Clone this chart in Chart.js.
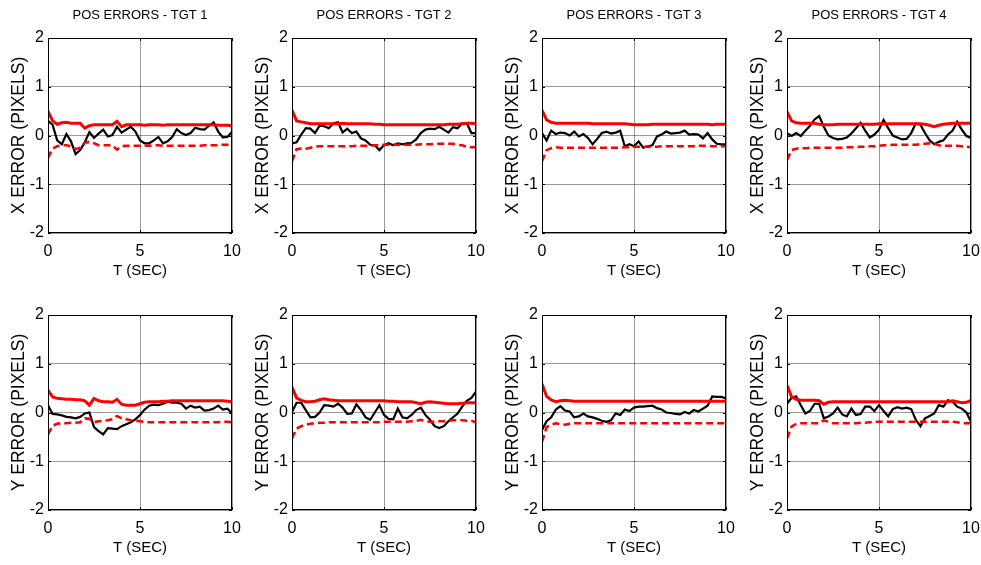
<!DOCTYPE html>
<html>
<head>
<meta charset="utf-8">
<script src="https://cdn.jsdelivr.net/npm/chart.js@4/dist/chart.umd.min.js"></script>
<style>
  body { margin: 0; background: #fff; width: 981px; height: 565px; position: relative; overflow: hidden; }
  .panel { position: absolute; }
</style>
</head>
<body>
<div class="panel" style="left:0px;top:0px"><canvas id="c0" width="242" height="278"></canvas></div>
<div class="panel" style="left:244px;top:0px"><canvas id="c1" width="242" height="278"></canvas></div>
<div class="panel" style="left:494px;top:0px"><canvas id="c2" width="242" height="278"></canvas></div>
<div class="panel" style="left:739px;top:0px"><canvas id="c3" width="242" height="278"></canvas></div>
<div class="panel" style="left:0px;top:277px"><canvas id="c4" width="242" height="278"></canvas></div>
<div class="panel" style="left:244px;top:277px"><canvas id="c5" width="242" height="278"></canvas></div>
<div class="panel" style="left:494px;top:277px"><canvas id="c6" width="242" height="278"></canvas></div>
<div class="panel" style="left:739px;top:277px"><canvas id="c7" width="242" height="278"></canvas></div>
<script>
// time axis (sec)
const time = [0, 0.25, 0.5, 0.75, 1, 1.25, 1.5, 1.75, 2, 2.25, 2.5, 2.75, 3, 3.25, 3.5, 3.75, 4, 4.25, 4.5, 4.75,
  5, 5.25, 5.5, 5.75, 6, 6.25, 6.5, 6.75, 7, 7.25, 7.5, 7.75, 8, 8.25, 8.5, 8.75, 9, 9.25, 9.5, 9.75, 10];

const titles = ['POS ERRORS - TGT 1', 'POS ERRORS - TGT 2', 'POS ERRORS - TGT 3', 'POS ERRORS - TGT 4'];
const yTicks = [-2, -1, 0, 1, 2];
const xTicks = [0, 5, 10];

// TGT 1
const tgt1X = [0.3, 0.22, -0.1, -0.18, 0.03, -0.12, -0.38, -0.3, -0.14, 0.07,
  -0.05, 0.04, 0.12, -0.02, 0.01, 0.18, 0.06, 0.12, 0.18, 0.08,
  -0.1, -0.16, -0.16, -0.1, -0.03, -0.16, -0.12, -0.03, 0.13, 0.05,
  0.01, 0.05, 0.16, 0.13, 0.12, 0.2, 0.27, 0.08, -0.04, -0.03, 0.08];
const tgt1XHi = [0.5, 0.3, 0.23, 0.26, 0.27, 0.25, 0.25, 0.25, 0.15, 0.2,
  0.22, 0.22, 0.22, 0.22, 0.22, 0.29, 0.18, 0.22, 0.22, 0.22,
  0.22, 0.21, 0.22, 0.22, 0.22, 0.21, 0.22, 0.22, 0.22, 0.22,
  0.22, 0.22, 0.22, 0.22, 0.22, 0.22, 0.22, 0.21, 0.21, 0.21, 0.2];
const tgt1XLo = [-0.46, -0.27, -0.22, -0.2, -0.2, -0.22, -0.28, -0.25, -0.15, -0.13,
  -0.16, -0.2, -0.2, -0.2, -0.2, -0.29, -0.22, -0.21, -0.21, -0.21,
  -0.21, -0.21, -0.21, -0.2, -0.2, -0.21, -0.21, -0.21, -0.21, -0.21,
  -0.21, -0.21, -0.21, -0.21, -0.2, -0.2, -0.2, -0.2, -0.19, -0.19, -0.19];
const tgt1Y = [0.15, -0.03, -0.04, -0.06, -0.09, -0.1, -0.12, -0.09, -0.02, 0.0,
  -0.3, -0.38, -0.45, -0.32, -0.33, -0.34, -0.28, -0.24, -0.2, -0.14,
  -0.05, 0.06, 0.14, 0.16, 0.15, 0.18, 0.22, 0.2, 0.2, 0.18,
  0.08, 0.14, 0.1, 0.12, 0.04, 0.05, 0.08, 0.14, 0.06, 0.08, -0.02];
const tgt1YHi = [0.46, 0.32, 0.29, 0.28, 0.27, 0.27, 0.26, 0.26, 0.24, 0.15,
  0.29, 0.24, 0.22, 0.22, 0.21, 0.27, 0.17, 0.15, 0.15, 0.15,
  0.18, 0.21, 0.22, 0.22, 0.22, 0.23, 0.23, 0.24, 0.24, 0.24,
  0.24, 0.24, 0.24, 0.24, 0.24, 0.24, 0.24, 0.24, 0.24, 0.23, 0.22];
const tgt1YLo = [-0.45, -0.27, -0.23, -0.22, -0.22, -0.21, -0.21, -0.2, -0.12, -0.13,
  -0.2, -0.18, -0.17, -0.16, -0.14, -0.07, -0.12, -0.14, -0.16, -0.17,
  -0.18, -0.19, -0.2, -0.2, -0.2, -0.2, -0.2, -0.2, -0.2, -0.2,
  -0.2, -0.2, -0.2, -0.2, -0.2, -0.2, -0.2, -0.2, -0.19, -0.19, -0.2];

// TGT 2
const tgt2X = [-0.16, -0.14, 0.02, 0.15, 0.14, 0.05, 0.2, 0.19, 0.15, 0.25,
  0.27, 0.06, 0.14, 0.05, 0.08, -0.06, -0.1, -0.19, -0.2, -0.3,
  -0.2, -0.16, -0.2, -0.16, -0.18, -0.16, -0.15, -0.08, 0.05, 0.12,
  0.14, 0.13, 0.18, 0.12, 0.06, 0.17, 0.15, 0.25, 0.25, 0.05, 0.05];
const tgt2XHi = [0.52, 0.3, 0.28, 0.26, 0.24, 0.24, 0.24, 0.24, 0.24, 0.24,
  0.24, 0.25, 0.24, 0.24, 0.24, 0.24, 0.24, 0.24, 0.23, 0.23,
  0.22, 0.22, 0.22, 0.22, 0.22, 0.22, 0.22, 0.22, 0.22, 0.22,
  0.22, 0.22, 0.22, 0.22, 0.23, 0.23, 0.23, 0.24, 0.25, 0.25, 0.24];
const tgt2XLo = [-0.53, -0.28, -0.27, -0.27, -0.25, -0.23, -0.22, -0.22, -0.22, -0.22,
  -0.22, -0.22, -0.22, -0.22, -0.21, -0.21, -0.21, -0.21, -0.2, -0.2,
  -0.19, -0.19, -0.19, -0.19, -0.19, -0.19, -0.19, -0.19, -0.18, -0.18,
  -0.18, -0.17, -0.17, -0.17, -0.17, -0.17, -0.19, -0.2, -0.23, -0.24, -0.24];
const tgt2Y = [0.01, 0.2, 0.2, 0.05, -0.1, -0.09, 0.0, 0.15, 0.14, 0.12,
  0.18, 0.1, -0.03, -0.02, 0.17, 0.05, -0.1, -0.15, 0.0, 0.15,
  -0.05, -0.13, -0.14, 0.08, -0.1, -0.12, -0.05, 0.05, 0.1, -0.05,
  -0.15, -0.28, -0.32, -0.28, -0.18, -0.1, -0.02, 0.12, 0.24, 0.3, 0.43];
const tgt2YHi = [0.52, 0.3, 0.25, 0.22, 0.22, 0.23, 0.26, 0.28, 0.26, 0.25,
  0.24, 0.24, 0.24, 0.24, 0.24, 0.24, 0.24, 0.24, 0.24, 0.24,
  0.24, 0.23, 0.23, 0.22, 0.22, 0.22, 0.22, 0.2, 0.18, 0.21,
  0.22, 0.21, 0.2, 0.19, 0.18, 0.18, 0.18, 0.19, 0.2, 0.2, 0.2];
const tgt2YLo = [-0.53, -0.33, -0.28, -0.25, -0.23, -0.22, -0.21, -0.21, -0.2, -0.2,
  -0.2, -0.2, -0.2, -0.2, -0.2, -0.2, -0.2, -0.2, -0.2, -0.2,
  -0.19, -0.19, -0.19, -0.19, -0.19, -0.19, -0.18, -0.17, -0.15, -0.18,
  -0.19, -0.19, -0.18, -0.18, -0.17, -0.16, -0.16, -0.16, -0.17, -0.17, -0.2];

// TGT 3
const tgt3X = [0.05, -0.1, 0.1, 0.03, 0.06, 0.05, 0.0, 0.08, -0.02, 0.03,
  -0.05, -0.18, -0.07, 0.05, 0.08, 0.04, 0.06, 0.1, -0.22, -0.18,
  -0.22, -0.12, -0.25, -0.22, -0.2, -0.02, 0.02, 0.08, 0.04, 0.05,
  0.06, 0.1, 0.02, 0.03, 0.02, -0.06, 0.05, -0.08, -0.17, -0.18, -0.18];
const tgt3XHi = [0.52, 0.32, 0.27, 0.25, 0.25, 0.25, 0.25, 0.25, 0.25, 0.25,
  0.25, 0.24, 0.24, 0.24, 0.24, 0.24, 0.24, 0.24, 0.24, 0.23,
  0.22, 0.22, 0.22, 0.22, 0.23, 0.23, 0.23, 0.23, 0.23, 0.23,
  0.23, 0.23, 0.23, 0.23, 0.23, 0.23, 0.23, 0.22, 0.23, 0.23, 0.23];
const tgt3XLo = [-0.53, -0.3, -0.26, -0.24, -0.25, -0.25, -0.25, -0.25, -0.25, -0.25,
  -0.25, -0.25, -0.25, -0.25, -0.25, -0.25, -0.25, -0.25, -0.24, -0.24,
  -0.23, -0.23, -0.23, -0.23, -0.23, -0.23, -0.22, -0.22, -0.22, -0.22,
  -0.22, -0.22, -0.22, -0.22, -0.21, -0.21, -0.21, -0.22, -0.22, -0.22, -0.22];
const tgt3Y = [-0.36, -0.18, -0.1, 0.06, 0.13, 0.04, 0.02, -0.1, -0.08, -0.02,
  -0.08, -0.1, -0.13, -0.17, -0.19, -0.16, -0.02, -0.05, 0.06, 0.03,
  0.1, 0.12, 0.12, 0.13, 0.14, 0.09, 0.06, 0.0, -0.01, -0.03,
  -0.04, 0.01, -0.02, 0.05, 0.02, 0.08, 0.14, 0.33, 0.32, 0.32, 0.29];
const tgt3YHi = [0.59, 0.33, 0.26, 0.22, 0.24, 0.25, 0.24, 0.23, 0.23, 0.23,
  0.23, 0.23, 0.23, 0.23, 0.23, 0.23, 0.23, 0.23, 0.23, 0.23,
  0.23, 0.23, 0.23, 0.23, 0.23, 0.23, 0.23, 0.23, 0.23, 0.23,
  0.23, 0.23, 0.23, 0.23, 0.23, 0.23, 0.23, 0.23, 0.23, 0.23, 0.23];
const tgt3YLo = [-0.6, -0.3, -0.25, -0.22, -0.24, -0.25, -0.23, -0.22, -0.22, -0.22,
  -0.22, -0.22, -0.22, -0.22, -0.22, -0.22, -0.22, -0.22, -0.22, -0.22,
  -0.22, -0.22, -0.22, -0.22, -0.22, -0.22, -0.22, -0.22, -0.22, -0.22,
  -0.22, -0.22, -0.22, -0.22, -0.22, -0.22, -0.22, -0.22, -0.22, -0.22, -0.22];

// TGT 4
const tgt4X = [0.05, -0.01, 0.05, -0.01, 0.1, 0.2, 0.33, 0.4, 0.18, 0.0,
  -0.05, -0.08, -0.07, -0.04, 0.04, 0.15, 0.26, 0.1, -0.04, 0.02,
  0.12, 0.32, 0.15, 0.0, -0.04, -0.08, -0.07, 0.05, 0.25, 0.22,
  0.05, -0.1, -0.18, -0.13, -0.1, 0.02, 0.1, 0.28, 0.12, -0.01, -0.05];
const tgt4XHi = [0.49, 0.3, 0.26, 0.25, 0.25, 0.25, 0.25, 0.23, 0.22, 0.22,
  0.22, 0.23, 0.23, 0.23, 0.23, 0.23, 0.23, 0.23, 0.23, 0.23,
  0.24, 0.24, 0.24, 0.24, 0.24, 0.24, 0.24, 0.24, 0.24, 0.24,
  0.23, 0.21, 0.18, 0.21, 0.23, 0.24, 0.25, 0.25, 0.25, 0.25, 0.25];
const tgt4XLo = [-0.5, -0.3, -0.27, -0.26, -0.26, -0.25, -0.25, -0.25, -0.25, -0.25,
  -0.25, -0.25, -0.25, -0.24, -0.24, -0.24, -0.23, -0.23, -0.22, -0.22,
  -0.21, -0.2, -0.2, -0.19, -0.19, -0.19, -0.19, -0.19, -0.19, -0.18,
  -0.17, -0.16, -0.17, -0.2, -0.21, -0.21, -0.21, -0.21, -0.22, -0.23, -0.24];
const tgt4Y = [0.18, 0.3, 0.33, 0.15, -0.02, 0.03, 0.18, 0.18, -0.12, -0.08,
  -0.02, 0.1, -0.04, -0.08, 0.08, -0.05, -0.03, 0.12, 0.12, 0.03,
  0.15, 0.03, -0.08, 0.07, 0.11, 0.08, 0.1, 0.07, -0.15, -0.28,
  -0.12, -0.07, -0.02, 0.15, 0.12, 0.25, 0.22, 0.12, 0.08, 0.0, -0.19];
const tgt4YHi = [0.56, 0.32, 0.27, 0.25, 0.25, 0.25, 0.25, 0.24, 0.17, 0.21,
  0.22, 0.22, 0.22, 0.22, 0.22, 0.22, 0.22, 0.22, 0.22, 0.22,
  0.22, 0.22, 0.22, 0.22, 0.22, 0.22, 0.22, 0.22, 0.22, 0.22,
  0.22, 0.22, 0.22, 0.22, 0.22, 0.22, 0.24, 0.22, 0.2, 0.21, 0.25];
const tgt4YLo = [-0.53, -0.29, -0.23, -0.22, -0.22, -0.22, -0.22, -0.22, -0.16, -0.19,
  -0.22, -0.22, -0.22, -0.22, -0.22, -0.22, -0.21, -0.21, -0.2, -0.19,
  -0.19, -0.19, -0.19, -0.19, -0.19, -0.19, -0.19, -0.19, -0.19, -0.19,
  -0.19, -0.19, -0.19, -0.19, -0.19, -0.19, -0.19, -0.2, -0.22, -0.22, -0.22];

const SANS = "'Liberation Sans', Arial, sans-serif";

// matlab style box with inward tick marks
const boxPlugin = {
  id: 'box',
  afterDraw(chart) {
    const { ctx, chartArea: a, scales } = chart;
    ctx.save();
    ctx.strokeStyle = '#000';
    ctx.lineWidth = 1;
    ctx.strokeRect(a.left + 0.5, a.top + 0.5, a.right - a.left - 1, a.bottom - a.top - 1);
    ctx.beginPath();
    scales.x.ticks.forEach(t => {
      const px = Math.round(scales.x.getPixelForValue(t.value)) + 0.5;
      ctx.moveTo(px, a.bottom); ctx.lineTo(px, a.bottom - 3);
      ctx.moveTo(px, a.top); ctx.lineTo(px, a.top + 3);
    });
    scales.y.ticks.forEach(t => {
      const py = Math.round(scales.y.getPixelForValue(t.value)) + 0.5;
      ctx.moveTo(a.left, py); ctx.lineTo(a.left + 3, py);
      ctx.moveTo(a.right, py); ctx.lineTo(a.right - 3, py);
    });
    ctx.stroke();
    ctx.restore();
  }
};

const pts = vals => vals.map((v, i) => ({ x: time[i], y: v }));

// fixed box sizes so every panel lines up like the matlab subplots
const fixX = h => s => { s.height = h; s.paddingLeft = 0; s.paddingRight = 0; };
const fixY = s => { s.width = 48; s.paddingTop = 0; s.paddingBottom = 0; };

function makePanel(id, title, yLabel, err, hi, lo) {
  new Chart(document.getElementById(id).getContext('2d'), {
    type: 'line',
    data: {
      datasets: [
        { data: pts(hi), borderColor: '#ff0000', borderWidth: 3 },
        { data: pts(lo), borderColor: '#ff0000', borderWidth: 2.6, borderDash: [7, 4] },
        { data: pts(err), borderColor: '#000000', borderWidth: 2.2 },
      ],
    },
    options: {
      responsive: false,
      animation: false,
      events: [],
      elements: { point: { radius: 0 }, line: { tension: 0 } },
      layout: { padding: { top: 0, right: 10, left: 0, bottom: 0 } },
      plugins: {
        legend: { display: false },
        tooltip: { enabled: false },
      },
      scales: {
        // top axis only carries the panel title
        top: {
          type: 'linear', position: 'top', min: 0, max: 10,
          afterFit: fixX(38),
          grid: { display: false },
          border: { display: false },
          ticks: { display: false },
          title: { display: !!title, text: title, color: '#000', padding: { top: 9, bottom: 0 },
            font: { family: SANS, size: 13, lineHeight: 1 } },
        },
        x: {
          type: 'linear', min: 0, max: 10,
          afterBuildTicks: s => { s.ticks = xTicks.map(v => ({ value: v })); },
          afterFit: fixX(45),
          grid: { color: 'rgba(0,0,0,0.4)', lineWidth: 1, drawTicks: false },
          border: { display: false },
          ticks: { color: '#000', padding: 9, maxRotation: 0, font: { family: SANS, size: 16 } },
          title: { display: true, text: 'T (SEC)', color: '#000', padding: 0,
            font: { family: SANS, size: 15, lineHeight: 1 } },
        },
        y: {
          type: 'linear', min: -2, max: 2,
          afterBuildTicks: s => { s.ticks = yTicks.map(v => ({ value: v })); },
          afterFit: fixY,
          grid: { color: 'rgba(0,0,0,0.4)', lineWidth: 1, drawTicks: false },
          border: { display: false },
          ticks: { color: '#000', padding: 4, font: { family: SANS, size: 16 } },
          title: { display: true, text: yLabel, color: '#000', padding: { top: 10.5, bottom: 0 },
            font: { family: SANS, size: 17.5, lineHeight: 1 } },
        },
      },
    },
    plugins: [boxPlugin],
  });
}

makePanel('c0', titles[0], 'X ERROR (PIXELS)', tgt1X, tgt1XHi, tgt1XLo);
makePanel('c1', titles[1], 'X ERROR (PIXELS)', tgt2X, tgt2XHi, tgt2XLo);
makePanel('c2', titles[2], 'X ERROR (PIXELS)', tgt3X, tgt3XHi, tgt3XLo);
makePanel('c3', titles[3], 'X ERROR (PIXELS)', tgt4X, tgt4XHi, tgt4XLo);
makePanel('c4', '', 'Y ERROR (PIXELS)', tgt1Y, tgt1YHi, tgt1YLo);
makePanel('c5', '', 'Y ERROR (PIXELS)', tgt2Y, tgt2YHi, tgt2YLo);
makePanel('c6', '', 'Y ERROR (PIXELS)', tgt3Y, tgt3YHi, tgt3YLo);
makePanel('c7', '', 'Y ERROR (PIXELS)', tgt4Y, tgt4YHi, tgt4YLo);
</script>
</body>
</html>
